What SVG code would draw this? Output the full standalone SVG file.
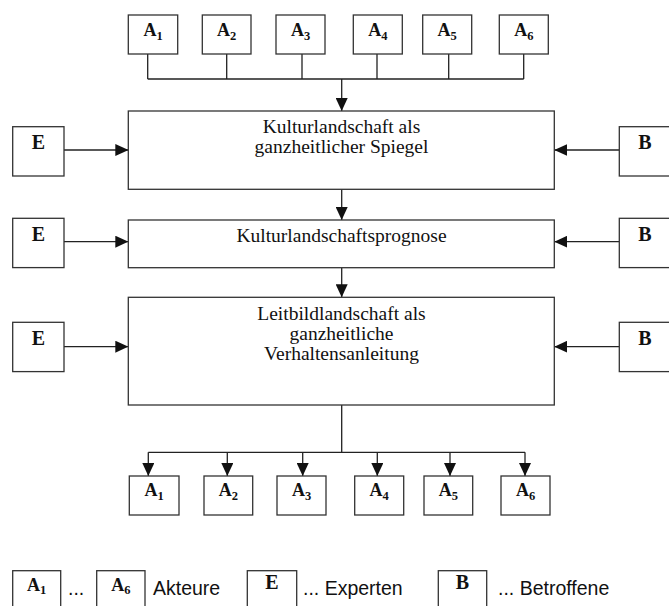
<svg xmlns="http://www.w3.org/2000/svg" width="669" height="606" viewBox="0 0 669 606">
<style>
.box{fill:#fff;stroke:#333;stroke-width:1.3}
.ln{fill:none;stroke:#222;stroke-width:1.3}
.lb{font-family:"Liberation Serif","Times New Roman",serif;font-weight:bold;font-size:18px;fill:#111;text-anchor:middle}
.sub{font-size:12.5px}
.ee{font-family:"Liberation Serif","Times New Roman",serif;font-weight:bold;font-size:20px;fill:#111;text-anchor:middle}
.mt{font-family:"Liberation Serif","Times New Roman",serif;font-size:19.5px;fill:#111;text-anchor:middle}
.lg{font-family:"Liberation Sans",Arial,sans-serif;font-size:19.5px;fill:#111}
</style>
<defs>
<marker id="ah" viewBox="0 0 13 12" refX="13" refY="6" markerWidth="13" markerHeight="12" markerUnits="userSpaceOnUse" orient="auto">
<path d="M0,0 L13,6 L0,12 z" fill="#111"/>
</marker>
</defs>

<g id="connectors">
<path class="ln" d="M147.7,54 V79 M226.7,54 V79 M302,54 V79 M377,54 V79 M448.7,54 V79 M523.7,54 V79 M147.7,79 H523.7"/>
<line class="ln" x1="341.7" y1="79" x2="341.7" y2="111" marker-end="url(#ah)"/>
<line class="ln" x1="341.7" y1="189.3" x2="341.7" y2="220" marker-end="url(#ah)"/>
<line class="ln" x1="341.7" y1="267.7" x2="341.7" y2="297.3" marker-end="url(#ah)"/>
<line class="ln" x1="64" y1="150" x2="128.3" y2="150" marker-end="url(#ah)"/>
<line class="ln" x1="64" y1="241.7" x2="128.3" y2="241.7" marker-end="url(#ah)"/>
<line class="ln" x1="64" y1="346.7" x2="128.3" y2="346.7" marker-end="url(#ah)"/>
<line class="ln" x1="619.3" y1="150" x2="554.3" y2="150" marker-end="url(#ah)"/>
<line class="ln" x1="619.3" y1="241.7" x2="554.3" y2="241.7" marker-end="url(#ah)"/>
<line class="ln" x1="619.3" y1="346.7" x2="554.3" y2="346.7" marker-end="url(#ah)"/>
<path class="ln" d="M341.7,405 V452.3 M148.3,452.3 H525"/>
<line class="ln" x1="148.3" y1="452.3" x2="148.3" y2="476" marker-end="url(#ah)"/>
<line class="ln" x1="227.3" y1="452.3" x2="227.3" y2="476" marker-end="url(#ah)"/>
<line class="ln" x1="302.7" y1="452.3" x2="302.7" y2="476" marker-end="url(#ah)"/>
<line class="ln" x1="377.3" y1="452.3" x2="377.3" y2="476" marker-end="url(#ah)"/>
<line class="ln" x1="450" y1="452.3" x2="450" y2="476" marker-end="url(#ah)"/>
<line class="ln" x1="525" y1="452.3" x2="525" y2="476" marker-end="url(#ah)"/>
</g>

<g id="top-A1"><rect class="box" x="128.3" y="15" width="49.4" height="39"/><text class="lb" x="153" y="36">A<tspan class="sub" dy="4">1</tspan></text></g>
<g id="top-A2"><rect class="box" x="202.3" y="15" width="48.7" height="39"/><text class="lb" x="226.7" y="36">A<tspan class="sub" dy="4">2</tspan></text></g>
<g id="top-A3"><rect class="box" x="276" y="15" width="49" height="39"/><text class="lb" x="300.5" y="36">A<tspan class="sub" dy="4">3</tspan></text></g>
<g id="top-A4"><rect class="box" x="353.3" y="15" width="49" height="39"/><text class="lb" x="377.8" y="36">A<tspan class="sub" dy="4">4</tspan></text></g>
<g id="top-A5"><rect class="box" x="422.7" y="15" width="49" height="39"/><text class="lb" x="447.2" y="36">A<tspan class="sub" dy="4">5</tspan></text></g>
<g id="top-A6"><rect class="box" x="499.3" y="15" width="49" height="39"/><text class="lb" x="523.8" y="36">A<tspan class="sub" dy="4">6</tspan></text></g>

<g id="spiegel"><rect class="box" x="128.3" y="111" width="426" height="78.3"/>
<text class="mt" x="341.5" y="133">Kulturlandschaft als</text>
<text class="mt" x="341.5" y="153">ganzheitlicher Spiegel</text></g>
<g id="prognose"><rect class="box" x="128.3" y="220" width="426" height="47.7"/>
<text class="mt" x="341.5" y="242">Kulturlandschaftsprognose</text></g>
<g id="leitbild"><rect class="box" x="128.3" y="297.3" width="426" height="107.7"/>
<text class="mt" x="341.5" y="320">Leitbildlandschaft als</text>
<text class="mt" x="341.5" y="340">ganzheitliche</text>
<text class="mt" x="341.5" y="360">Verhaltensanleitung</text></g>

<g id="E1"><rect class="box" x="12.7" y="126.7" width="51.3" height="49.3"/><text class="ee" x="38.3" y="149">E</text></g>
<g id="E2"><rect class="box" x="12.7" y="218.3" width="51.3" height="49.3"/><text class="ee" x="38.3" y="240.5">E</text></g>
<g id="E3"><rect class="box" x="12.7" y="322.3" width="51.3" height="49.3"/><text class="ee" x="38.3" y="344.5">E</text></g>
<g id="B1"><rect class="box" x="619.3" y="126.7" width="51.3" height="49.3"/><text class="ee" x="645" y="149">B</text></g>
<g id="B2"><rect class="box" x="619.3" y="218.3" width="51.3" height="49.3"/><text class="ee" x="645" y="240.5">B</text></g>
<g id="B3"><rect class="box" x="619.3" y="322.3" width="51.3" height="49.3"/><text class="ee" x="645" y="344.5">B</text></g>

<g id="bot-A1"><rect class="box" x="129.3" y="476" width="49.7" height="39"/><text class="lb" x="154.2" y="496">A<tspan class="sub" dy="4">1</tspan></text></g>
<g id="bot-A2"><rect class="box" x="204" y="476" width="48.7" height="39"/><text class="lb" x="228.4" y="496">A<tspan class="sub" dy="4">2</tspan></text></g>
<g id="bot-A3"><rect class="box" x="277" y="476" width="49" height="39"/><text class="lb" x="301.5" y="496">A<tspan class="sub" dy="4">3</tspan></text></g>
<g id="bot-A4"><rect class="box" x="354.7" y="476" width="49" height="39"/><text class="lb" x="379.2" y="496">A<tspan class="sub" dy="4">4</tspan></text></g>
<g id="bot-A5"><rect class="box" x="424" y="476" width="48.7" height="39"/><text class="lb" x="448.4" y="496">A<tspan class="sub" dy="4">5</tspan></text></g>
<g id="bot-A6"><rect class="box" x="501" y="476" width="49" height="39"/><text class="lb" x="525.5" y="496">A<tspan class="sub" dy="4">6</tspan></text></g>

<g id="legend">
<rect class="box" x="12.7" y="570.7" width="48" height="45"/>
<text class="lb" x="36.7" y="591">A<tspan class="sub" dy="3" font-size="11">1</tspan></text>
<text class="lg" x="68" y="595">...</text>
<rect class="box" x="96.7" y="570.7" width="48.3" height="45"/>
<text class="lb" x="120.8" y="591">A<tspan class="sub" dy="3" font-size="11">6</tspan></text>
<text class="lg" x="153" y="595">Akteure</text>
<rect class="box" x="247.3" y="570.7" width="49.4" height="45"/>
<text class="ee" x="272" y="589" font-size="19">E</text>
<text class="lg" x="303" y="595">... Experten</text>
<rect class="box" x="438.3" y="570.7" width="48.4" height="45"/>
<text class="ee" x="462.5" y="589" font-size="19">B</text>
<text class="lg" x="498" y="595">... Betroffene</text>
</g>
</svg>
